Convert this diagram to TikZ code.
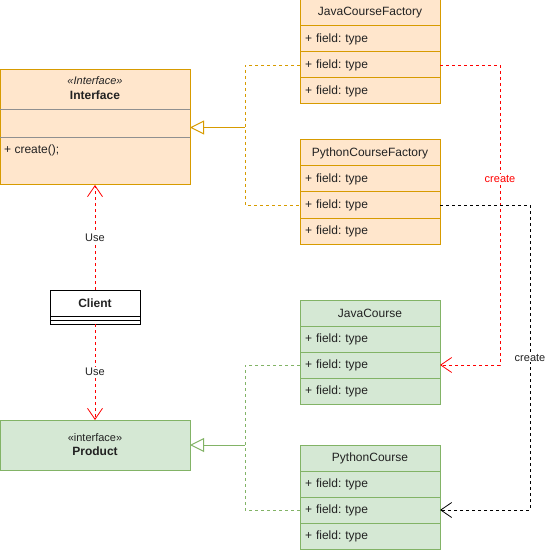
\documentclass[tikz,border=0pt]{standalone}
\usepackage{fontspec}
\setmainfont{Liberation Sans}
\usepackage{tikz}
\usetikzlibrary{arrows.meta,positioning}
\definecolor{orfill}{HTML}{FFE6CC}
\definecolor{ordraw}{HTML}{D79B00}
\definecolor{grfill}{HTML}{D5E8D4}
\definecolor{grdraw}{HTML}{82B366}
\definecolor{txt}{HTML}{222222}
\definecolor{sepgray}{HTML}{909090}
\frenchspacing

\begin{document}
\begin{tikzpicture}[x=1pt,y=-1pt,text=txt,font=\fontsize{12}{14}\selectfont,
	box/.style={draw,rectangle,minimum width=140pt,minimum height=26pt,inner sep=0pt,outer sep=0pt,line width=1pt},
	row/.style={box,text width=130pt,align=left},
	dashline/.style={dash pattern=on 3pt off 3pt,line width=0.8pt},
	openv/.style={-{Straight Barb[length=11pt,width=15pt,line width=0.8pt]}},
	inherit/.style={-{Triangle[open,length=14pt,width=14pt]},line width=1pt},
	lbl/.style={fill=white,inner sep=1pt,text=txt,font=\fontsize{11}{13}\selectfont}]
	\useasboundingbox (0,0) rectangle (546,553);
	
	% 类框
	\foreach \id/\nm/\y/\f/\d in {jcf/JavaCourseFactory/0/orfill/ordraw,pcf/PythonCourseFactory/140/orfill/ordraw,jc/JavaCourse/300/grfill/grdraw,pc/PythonCourse/445/grfill/grdraw}{
		\node[box,fill=\f,draw=\d,anchor=north] (\id) at (370,\y) {\nm};
		\node[row,fill=\f,draw=\d,below=0pt of \id] (\id1) {+ field: type};
		\node[row,fill=\f,draw=\d,below=0pt of \id1] (\id2) {+ field: type};
		\node[row,fill=\f,draw=\d,below=0pt of \id2] (\id3) {+ field: type};
	}
	
	% 接口
	\node[draw=ordraw,fill=orfill,line width=1pt,minimum width=190pt,minimum height=115pt,inner sep=0pt,outer sep=0pt,anchor=north west] (iface) at (0,70) {};
	\draw[sepgray] (0,109) -- (190,109);
	\draw[sepgray] (0,137) -- (190,137);
	\node[font=\fontsize{11}{13}\selectfont\itshape] (ifstereo) at (95,81) {<<Interface>>};
	\node[font=\fontsize{12}{14}\selectfont\bfseries] (ifname) at (95,95) {Interface};
	\node[anchor=west,inner sep=0pt] (ifop) at (4,150) {+ create();};
	
	\node[draw=grdraw,fill=grfill,line width=1pt,minimum width=190pt,minimum height=50pt,inner sep=0pt,outer sep=0pt,anchor=north west,align=center] (prod) at (0,420) {{\fontsize{11}{14}\selectfont «interface»}\\ \textbf{Product}};
	
	% 客户端
	\node[draw,line width=1pt,minimum width=90pt,minimum height=34pt,inner sep=0pt,outer sep=0pt,anchor=north west] (client) at (50,290) {};
	\node[font=\fontsize{12}{14}\selectfont\bfseries] (clname) at (95,303) {Client};
	\draw[line width=1pt] (50,316) -- (140,316);
	\draw[line width=1pt] (50,320) -- (140,320);
	
	% 继承
	\path (iface.east) ++(55,0) coordinate (ijoin);
	\path (prod.east) ++(55,0) coordinate (pjoin);
	\draw[dashline,ordraw] (jcf2.west) -| (ijoin) |- (pcf2.west);
	\draw[inherit,ordraw] (ijoin) -- (iface.east);
	\draw[dashline,grdraw] (jc2.west) -| (pjoin) |- (pc2.west);
	\draw[inherit,grdraw] (pjoin) -- (prod.east);
	
	% 依赖
	\draw[dashline,red,openv] (client.north) -- node[lbl] {Use} (iface.south);
	\draw[dashline,red,openv] (client.south) -- node[lbl] {Use} (prod.north);
	\draw[dashline,red,openv] (jcf2.east) -- ++(60,0) |- node[lbl,pos=0.19,text=red] {create} (jc2.east);
	\draw[dashline,openv] (pcf2.east) -- ++(90,0) |- node[lbl,pos=0.25] {create} (pc2.east);
\end{tikzpicture}
\end{document}
